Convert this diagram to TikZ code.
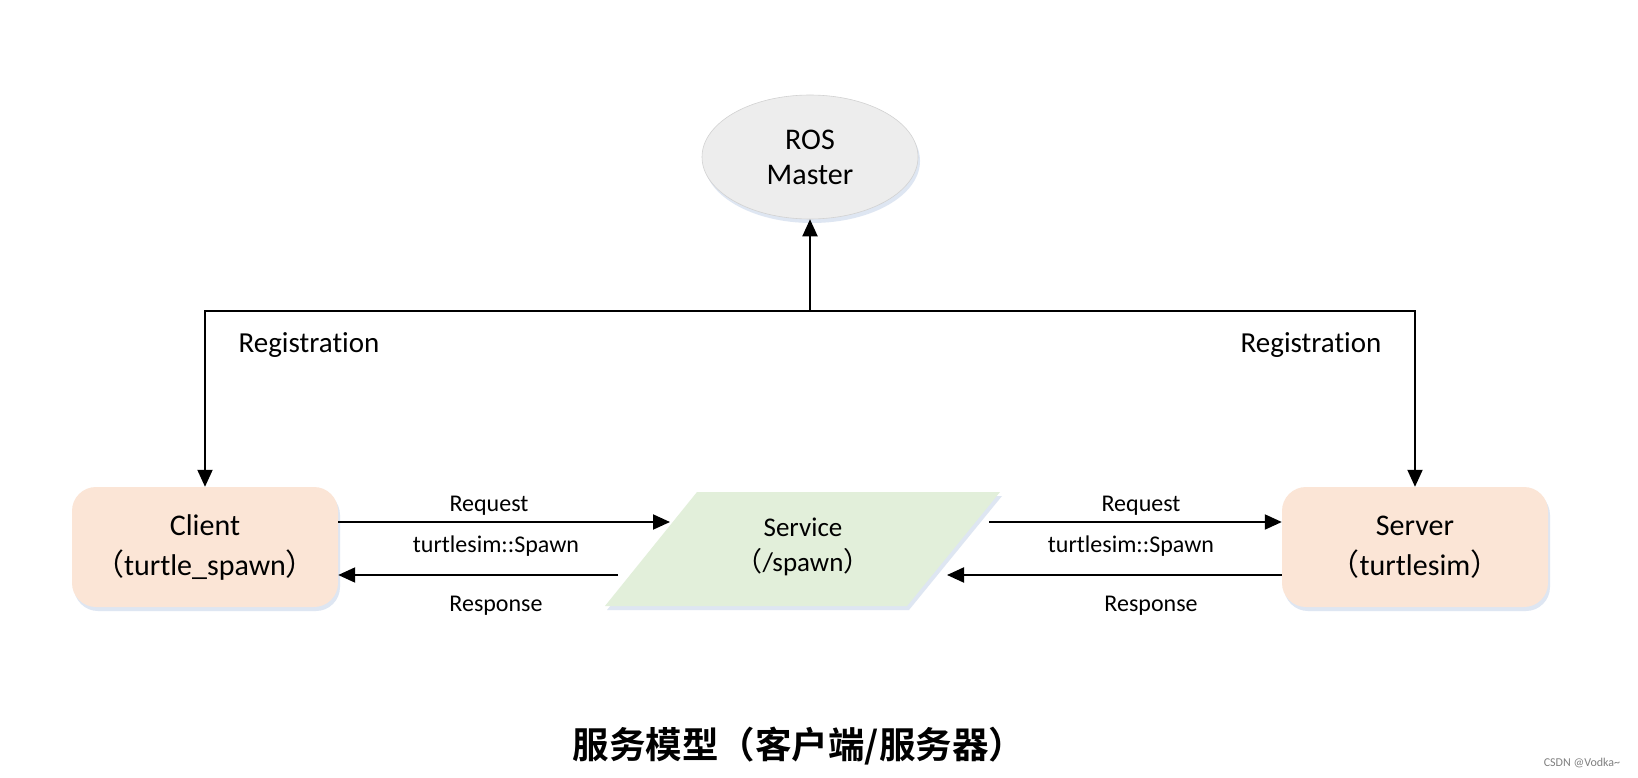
\documentclass[tikz,border=0pt]{standalone}
\usepackage{fontspec}
\setmainfont{Carlito}[Ligatures=NoCommon]
\newfontfamily\cjk{Noto Sans CJK SC}
\newfontfamily\cjkb{Noto Sans CJK SC Bold}
\usetikzlibrary{shapes.geometric,arrows.meta,shadows}
\definecolor{peach}{HTML}{FBE5D6}
\definecolor{mint}{HTML}{E2EFDA}
\definecolor{mgray}{HTML}{EDEDED}
\definecolor{shade}{HTML}{C9D6EA}
\begin{document}
\begin{tikzpicture}[x=1pt,y=-1pt,
  arr/.style={line width=2pt, -{Triangle[length=17pt,width=15pt]}},
  lbl/.style={font=\fontsize{24}{28}\selectfont, inner sep=0pt},
  reglbl/.style={font=\fontsize{29}{34}\selectfont, inner sep=0pt},
  softshadow/.style={drop shadow={shadow xshift=2pt, shadow yshift=-4pt, fill=shade, opacity=0.6}},
  boxnode/.style={rounded corners=24pt, fill=peach, minimum width=266pt, minimum height=120pt,
    align=center, font=\fontsize{30}{40}\selectfont, softshadow}]
\useasboundingbox[fill=white] (0,0) rectangle (1638,778);

% ROS Master
\node[ellipse, fill=mgray, draw=gray!35, line width=0.6pt, minimum width=216pt, minimum height=124pt,
  align=center, font=\fontsize{30}{35}\selectfont, softshadow] (master) at (810,157) {ROS\\Master};

% Client and Server
\node[boxnode] (client) at (205,547) {Client\\{\cjk（}turtle\_spawn{\cjk）}};
\node[boxnode] (server) at (1415,547) {Server\\{\cjk（}turtlesim{\cjk）}};

% Service parallelogram
\fill[mint, softshadow] (697,492) -- (1000,492) -- (907,606) -- (605,606) -- cycle;
\node[font=\fontsize{27}{35}\selectfont, align=center] (service) at (803,547) {Service\\{\cjk（}/spawn{\cjk）}};

% Registration
\coordinate (j) at (810,311);
\draw[arr] (j) -- (master.south);
\draw[arr] (j) -| (client.north);
\draw[arr] (j) -| (server.north);
\node[reglbl] (regL) at (309,345) {Registration};
\node[reglbl] (regR) at (1311,345) {Registration};

% Request / Response
\coordinate (sLreq) at (670,522);
\coordinate (sLres) at (618,575);
\coordinate (sRreq) at (989,522);
\coordinate (sRres) at (947,575);
\draw[arr] (client.east |- sLreq) -- (sLreq);
\draw[arr] (sLres) -- (client.east |- sLres);
\draw[arr] (sRreq) -- (server.west |- sRreq);
\draw[arr] (server.west |- sRres) -- (sRres);

\node[lbl] (reqL) at (489,506) {Request};
\node[lbl] (spL) at (496,546) {turtlesim::Spawn};
\node[lbl] (resL) at (496,606) {Response};
\node[lbl] (reqR) at (1141,506) {Request};
\node[lbl] (spR) at (1131,546) {turtlesim::Spawn};
\node[lbl] (resR) at (1151,606) {Response};

% Title
\node[font=\cjkb\fontsize{36.5}{44}\selectfont] (title) at (799,746) {服务模型（客户端/服务器）};

% Watermark
\node[font=\fontsize{12}{14}\selectfont, text=gray] (wm) at (1582,763) {CSDN @Vodka\textasciitilde};
\end{tikzpicture}
\end{document}
